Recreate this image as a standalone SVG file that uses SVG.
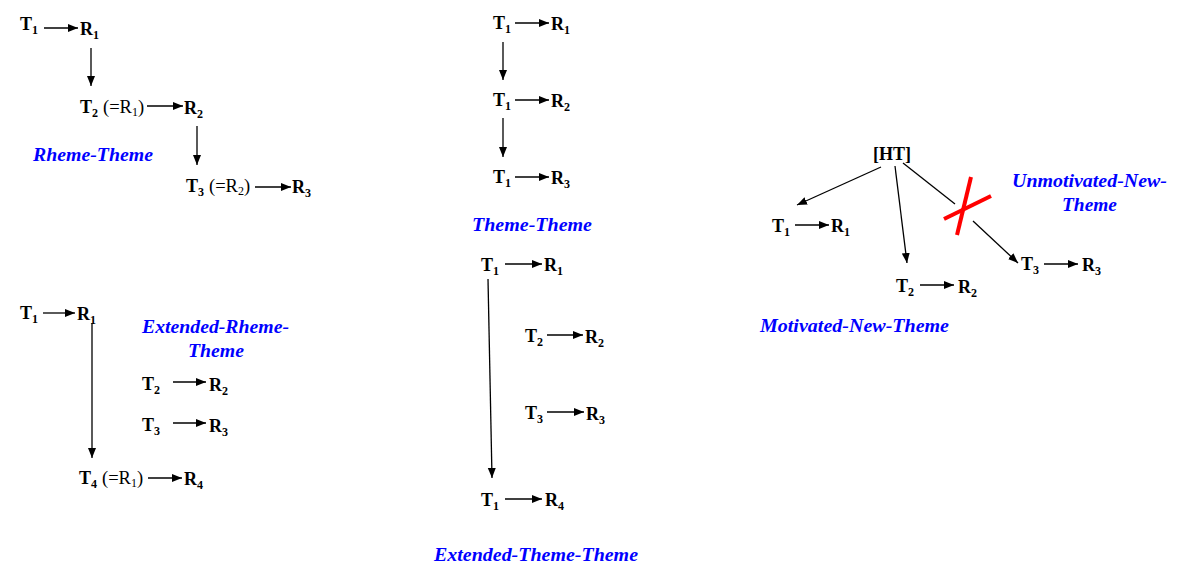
<svg xmlns="http://www.w3.org/2000/svg" width="1193" height="574" viewBox="0 0 1193 574">
<style>
.t{font-family:"Liberation Serif","Times New Roman",serif;font-weight:bold;font-size:18px;fill:#000}
.s{font-size:12px}
.r{font-family:"Liberation Serif","Times New Roman",serif;font-weight:normal;font-size:18.5px;fill:#000}
.lab{font-family:"Liberation Serif","Times New Roman",serif;font-weight:bold;font-style:italic;font-size:19px;fill:#0000ff}
.c line{stroke:#000;stroke-width:1.3;fill:none}
.c .a{marker-end:url(#ah)}
.x line{stroke:#ff0000;stroke-width:4}
</style>
<defs>
<marker id="ah" markerUnits="userSpaceOnUse" markerWidth="12" markerHeight="10" refX="10" refY="4" orient="auto">
<path d="M0,0 L10,4 L0,8 Z" fill="#000"/>
</marker>
</defs>
<rect width="1193" height="574" fill="#fff"/>

<!-- Rheme-Theme -->
<g id="rt-row1"><text class="t" x="20" y="30">T<tspan class="s" dy="4">1</tspan></text><text class="t" x="80" y="35">R<tspan class="s" dy="4">1</tspan></text></g>
<g id="rt-row2"><text class="t" x="80" y="113">T<tspan class="s" dy="4">2</tspan></text><text class="r" x="103" y="113">(=R<tspan class="s" dy="3">1</tspan><tspan dy="-3">)</tspan></text><text class="t" x="184" y="114">R<tspan class="s" dy="4">2</tspan></text></g>
<g id="rt-row3"><text class="t" x="186" y="192">T<tspan class="s" dy="4">3</tspan></text><text class="r" x="209" y="192">(=R<tspan class="s" dy="3">2</tspan><tspan dy="-3">)</tspan></text><text class="t" x="292" y="193">R<tspan class="s" dy="4">3</tspan></text></g>
<g id="rt-label"><text class="lab" x="33" y="161" textLength="120" lengthAdjust="spacingAndGlyphs">Rheme-Theme</text></g>

<!-- Extended-Rheme-Theme -->
<g id="ert-row1"><text class="t" x="20" y="319">T<tspan class="s" dy="4">1</tspan></text><text class="t" x="77" y="320">R<tspan class="s" dy="4">1</tspan></text></g>
<g id="ert-row2"><text class="t" x="142" y="390">T<tspan class="s" dy="4">2</tspan></text><text class="t" x="209" y="391">R<tspan class="s" dy="4">2</tspan></text></g>
<g id="ert-row3"><text class="t" x="142" y="431">T<tspan class="s" dy="4">3</tspan></text><text class="t" x="209" y="432">R<tspan class="s" dy="4">3</tspan></text></g>
<g id="ert-row4"><text class="t" x="79" y="484">T<tspan class="s" dy="4">4</tspan></text><text class="r" x="102" y="484">(=R<tspan class="s" dy="3">1</tspan><tspan dy="-3">)</tspan></text><text class="t" x="184" y="485">R<tspan class="s" dy="4">4</tspan></text></g>
<g id="ert-label"><text class="lab" x="142" y="333" textLength="147" lengthAdjust="spacingAndGlyphs">Extended-Rheme-</text><text class="lab" x="188" y="357" textLength="56" lengthAdjust="spacingAndGlyphs">Theme</text></g>

<!-- Theme-Theme -->
<g id="tt-row1"><text class="t" x="493" y="29">T<tspan class="s" dy="4">1</tspan></text><text class="t" x="551" y="30">R<tspan class="s" dy="4">1</tspan></text></g>
<g id="tt-row2"><text class="t" x="493" y="106">T<tspan class="s" dy="4">1</tspan></text><text class="t" x="551" y="107">R<tspan class="s" dy="4">2</tspan></text></g>
<g id="tt-row3"><text class="t" x="493" y="183">T<tspan class="s" dy="4">1</tspan></text><text class="t" x="551" y="184">R<tspan class="s" dy="4">3</tspan></text></g>
<g id="tt-label"><text class="lab" x="472" y="231" textLength="120" lengthAdjust="spacingAndGlyphs">Theme-Theme</text></g>

<!-- Extended-Theme-Theme -->
<g id="ett-row1"><text class="t" x="481" y="271">T<tspan class="s" dy="4">1</tspan></text><text class="t" x="544" y="271">R<tspan class="s" dy="4">1</tspan></text></g>
<g id="ett-row2"><text class="t" x="525" y="342">T<tspan class="s" dy="4">2</tspan></text><text class="t" x="585" y="343">R<tspan class="s" dy="4">2</tspan></text></g>
<g id="ett-row3"><text class="t" x="525" y="419">T<tspan class="s" dy="4">3</tspan></text><text class="t" x="586" y="420">R<tspan class="s" dy="4">3</tspan></text></g>
<g id="ett-row4"><text class="t" x="481" y="506">T<tspan class="s" dy="4">1</tspan></text><text class="t" x="545" y="506">R<tspan class="s" dy="4">4</tspan></text></g>
<g id="ett-label"><text class="lab" x="434" y="561" textLength="204" lengthAdjust="spacingAndGlyphs">Extended-Theme-Theme</text></g>

<!-- New-Theme -->
<g id="ht"><text class="t" x="873" y="160">[HT]</text></g>
<g id="nt-row1"><text class="t" x="772" y="232">T<tspan class="s" dy="4">1</tspan></text><text class="t" x="831" y="232">R<tspan class="s" dy="4">1</tspan></text></g>
<g id="nt-row2"><text class="t" x="896" y="292">T<tspan class="s" dy="4">2</tspan></text><text class="t" x="958" y="293">R<tspan class="s" dy="4">2</tspan></text></g>
<g id="nt-row3"><text class="t" x="1021" y="270">T<tspan class="s" dy="4">3</tspan></text><text class="t" x="1082" y="271">R<tspan class="s" dy="4">3</tspan></text></g>
<g id="unt-label"><text class="lab" x="1012" y="187" textLength="155" lengthAdjust="spacingAndGlyphs">Unmotivated-New-</text><text class="lab" x="1062" y="211" textLength="55" lengthAdjust="spacingAndGlyphs">Theme</text></g>
<g id="mnt-label"><text class="lab" x="760" y="332" textLength="189" lengthAdjust="spacingAndGlyphs">Motivated-New-Theme</text></g>

<g id="connectors" class="c">
<!-- Rheme-Theme -->
<line class="a" x1="44" y1="28" x2="78" y2="28"/>
<line class="a" x1="91" y1="48" x2="91" y2="86"/>
<line class="a" x1="147" y1="106" x2="183" y2="106"/>
<line class="a" x1="197" y1="126" x2="197" y2="165"/>
<line class="a" x1="255" y1="187" x2="291" y2="187"/>
<!-- Extended-Rheme-Theme -->
<line class="a" x1="43" y1="313" x2="75" y2="313"/>
<line class="a" x1="92" y1="323" x2="92" y2="458"/>
<line class="a" x1="173" y1="382" x2="206" y2="382"/>
<line class="a" x1="173" y1="423" x2="206" y2="423"/>
<line class="a" x1="148" y1="478" x2="182" y2="478"/>
<!-- Theme-Theme -->
<line class="a" x1="515" y1="23" x2="549" y2="23"/>
<line class="a" x1="503" y1="42" x2="503" y2="80"/>
<line class="a" x1="515" y1="100" x2="549" y2="100"/>
<line class="a" x1="503" y1="118" x2="503" y2="157"/>
<line class="a" x1="515" y1="177" x2="549" y2="177"/>
<!-- Extended-Theme-Theme -->
<line class="a" x1="505" y1="264" x2="542" y2="264"/>
<line class="a" x1="488" y1="279" x2="492" y2="478"/>
<line class="a" x1="547" y1="335" x2="583" y2="335"/>
<line class="a" x1="547" y1="412" x2="584" y2="412"/>
<line class="a" x1="505" y1="499" x2="542" y2="499"/>
<!-- New-Theme -->
<line class="a" x1="881" y1="167" x2="797" y2="205"/>
<line class="a" x1="895" y1="166" x2="907" y2="263"/>
<line x1="903" y1="163" x2="955" y2="204"/>
<line class="a" x1="973" y1="221" x2="1018" y2="263"/>
<line class="a" x1="795" y1="225" x2="829" y2="225"/>
<line class="a" x1="920" y1="285" x2="954" y2="285"/>
<line class="a" x1="1044" y1="264" x2="1078" y2="264"/>
</g>
<g id="cross" class="x">
<line x1="971" y1="177" x2="957" y2="235"/>
<line x1="944" y1="219" x2="991" y2="196"/>
</g>
</svg>
